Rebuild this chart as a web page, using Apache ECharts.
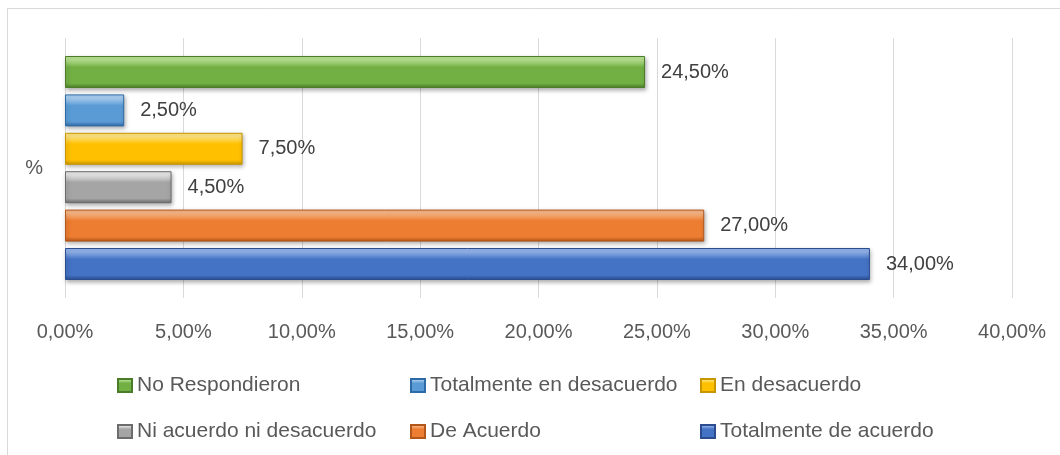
<!DOCTYPE html>
<html>
<head>
<meta charset="utf-8">
<script src="https://cdn.jsdelivr.net/npm/echarts@6/dist/echarts.min.js"></script>
<style>
html,body{margin:0;padding:0;background:#fff;}
#chart{width:1060px;height:455px;}
</style>
</head>
<body>
<div id="chart"></div>
<script>
const categories = ['%'];
const seriesNames = ['No Respondieron','Totalmente en desacuerdo','En desacuerdo','Ni acuerdo ni desacuerdo','De Acuerdo','Totalmente de acuerdo'];
const seriesValues = [24.5, 2.5, 7.5, 4.5, 27.0, 34.0];
const xTicks = [0, 5, 10, 15, 20, 25, 30, 35, 40];
const palette = [
  ['#b8e291','#72b043','#4b7c2a'],
  ['#a9cff2','#5b9bd5','#2e6aa8'],
  ['#ffe47e','#ffc000','#c89600'],
  ['#e6e6e6','#a5a5a5','#6c6c6c'],
  ['#f8b584','#ed7d31','#b2561a'],
  ['#93b3ea','#4472c4','#294d8f']
];
const FONT = 'Liberation Sans, Arial, sans-serif';
function fmt(v){ return v.toFixed(2).replace('.', ',') + '%'; }
function grad(c){
  return new echarts.graphic.LinearGradient(0,0,0,1,[
    {offset:0,color:c[0]},{offset:0.12,color:c[0]},{offset:0.35,color:c[1]},
    {offset:0.85,color:c[1]},{offset:1,color:c[2]}
  ]);
}
// in ECharts horizontal bars the first series is drawn at the top of the band
const series = seriesNames.map((name, i) => ({
  name: name,
  type: 'bar',
  data: [seriesValues[i]],
  barWidth: 32,
  barGap: '20%',
  itemStyle: {
    color: grad(palette[i]),
    borderColor: palette[i][2],
    borderWidth: 1,
    shadowBlur: 4,
    shadowOffsetY: 2,
    shadowOffsetX: 1,
    shadowColor: 'rgba(0,0,0,0.3)'
  },
  label: {
    show: true, position: 'right', distance: 16,
    formatter: p => fmt(p.value),
    fontFamily: FONT, fontSize: 20, color: '#404040'
  },
  emphasis: {disabled: true}
}));
const legendPos = [
  [117, 375],[410, 375],[700, 375],
  [117, 421],[410, 421],[700, 421]
];
const legends = seriesNames.map((n, i) => ({
  data: [n],
  left: legendPos[i][0], top: legendPos[i][1],
  itemWidth: 14, itemHeight: 13,
  icon: 'rect',
  padding: 0,
  selectedMode: false,
  textStyle: {fontFamily: FONT, fontSize: 21, color: '#595959'}
}));
const chart = echarts.init(document.getElementById('chart'), null, {renderer:'canvas'});
chart.setOption({
  animation: false,
  backgroundColor: '#fff',
  graphic: [{
    type: 'rect', shape: {x: 7.5, y: 8.5, width: 1100, height: 500},
    style: {fill: 'none', stroke: '#d9d9d9', lineWidth: 1}, silent: true, z: -1
  }],
  grid: {left: 65, right: 48, top: 38, bottom: 157, containLabel: false},
  legend: legends,
  xAxis: {
    type: 'value', min: xTicks[0], max: xTicks[xTicks.length-1], interval: xTicks[1]-xTicks[0],
    axisLine: {show: false}, axisTick: {show: false},
    splitLine: {show: true, lineStyle: {color: '#d9d9d9', width: 1}},
    axisLabel: {formatter: v => fmt(v), fontFamily: FONT, fontSize: 20, color: '#595959', margin: 24}
  },
  yAxis: {
    type: 'category', data: categories,
    axisLine: {show: false}, axisTick: {show: false},
    axisLabel: {fontFamily: FONT, fontSize: 20, color: '#595959', margin: 22}
  },
  series: series
});
</script>
</body>
</html>
